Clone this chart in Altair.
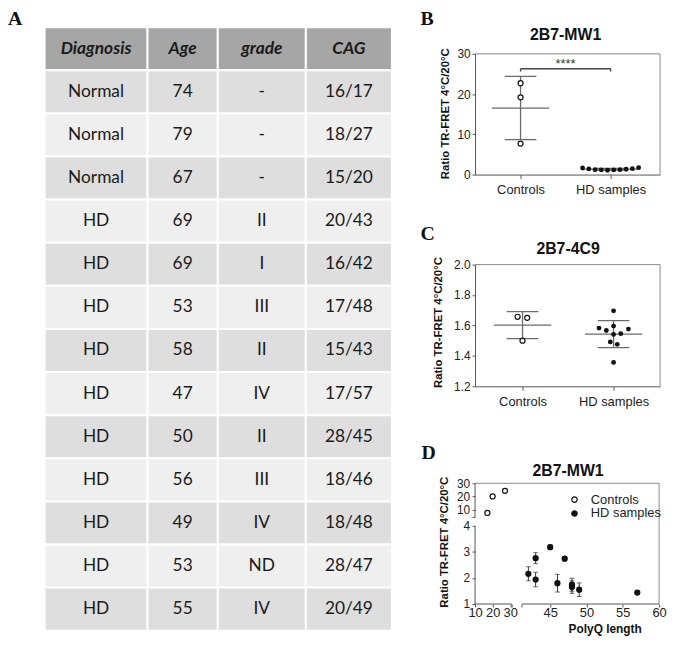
import altair as alt
import numpy as np
import pandas as pd

# ------------------------------------------------------------------ data
# Panel A (table)
HEADER = ["Diagnosis", "Age", "grade", "CAG"]
DIAGNOSIS = ["Normal", "Normal", "Normal", "HD", "HD", "HD", "HD", "HD", "HD", "HD", "HD", "HD", "HD"]
AGE = ["74", "79", "67", "69", "69", "53", "58", "47", "50", "56", "49", "53", "55"]
GRADE = ["-", "-", "-", "II", "I", "III", "II", "IV", "II", "III", "IV", "ND", "IV"]
CAG = ["16/17", "18/27", "15/20", "20/43", "16/42", "17/48", "15/43", "17/57", "28/45",
       "18/46", "18/48", "28/47", "20/49"]

# Panel B (2B7-MW1)
GROUPS = ["Controls", "HD samples"]
B_CONTROLS = [22.7, 19.2, 7.7]
B_HD = [1.64, 1.40, 1.23, 1.15, 1.08, 1.15, 1.23, 1.32, 1.47, 1.72]
B_SIG = "****"
B_SIG_Y = 26.3

# Panel C (2B7-4C9)
C_CONTROLS = [1.657, 1.650, 1.500]
C_HD = [1.696, 1.583, 1.567, 1.596, 1.576, 1.541, 1.546, 1.492, 1.476, 1.357]

# Panel D (2B7-MW1 vs PolyQ length)
D_CTRL_Q = [17, 20, 27]
D_CTRL_Y = [7.5, 20.0, 24.3]
D_CTRL_ERR = [0.3, 0.5, 1.2]
D_HD_Q = [42, 43, 43, 45, 46, 47, 48, 48, 49, 57]
D_HD_Y = [2.16, 2.76, 1.94, 3.18, 1.80, 2.74, 1.74, 1.65, 1.55, 1.44]
D_HD_ERR = [0.27, 0.21, 0.28, 0.08, 0.34, 0.08, 0.25, 0.24, 0.26, 0.06]

YTITLE = "Ratio TR-FRET 4°C/20°C"

# ------------------------------------------------------------------ layout / style
SANS = "Liberation Sans, Arial, sans-serif"
SERIF = "Liberation Serif, Times New Roman, serif"
TFONT = "Lato, Open Sans, sans-serif"
AXC = "#555555"
FRAME = "#8a8a8a"
INK = "#111111"

COL_EDGES = [0, 104, 175, 264, 351]
TABLE_W, TABLE_H = 351, 610
PW = 187
B_TOP = 27          # panel B plot starts this far below the table top
B_H, C_H, D_H = 122, 123, 122
LETTER_Y = -2       # baseline of the "A"/"B" panel letters relative to the table top

# dot-plot horizontal layout (pixels from group centre)
B_CTRL_DX = [0, 0, 0]
B_HD_DX = list(np.linspace(-28.3, 28.3, len(B_HD)))
C_CTRL_DX = [-5, 4.7, 0]
C_HD_DX = [0, -14.7, -7.3, 0, 15, 0, 7.3, -3.3, 3.7, 0]

# broken axes of panel D (piecewise linear scales)
D_XDOM, D_XRANGE = [10, 30.8, 41.1, 60], [0, 37, 47.3, 186]
D_YDOM, D_YRANGE = [1, 4, 4.5, 30], [D_H, 43, 34, 0]


def text_layer(txt, x, y, font, size, weight="bold", align="left", baseline="alphabetic"):
    return alt.Chart(pd.DataFrame({"t": [txt]})).mark_text(
        font=font, fontSize=size, fontWeight=weight, align=align, baseline=baseline, color=INK
    ).encode(x=alt.value(x), y=alt.value(y), text="t:N")


# ------------------------------------------------------------------ Panel A
rows = [HEADER] + [list(r) for r in zip(DIAGNOSIS, AGE, GRADE, CAG)]
cells = []
for r, row in enumerate(rows):
    for c, txt in enumerate(row):
        cells.append(dict(r=r, r2=r + 1, rm=r + 0.5, x1=COL_EDGES[c], x2=COL_EDGES[c + 1],
                          xm=(COL_EDGES[c] + COL_EDGES[c + 1]) / 2, txt=txt,
                          kind="header" if r == 0 else ("dark" if r % 2 == 1 else "light")))
cells = pd.DataFrame(cells)
txs = alt.Scale(domain=[0, TABLE_W], nice=False, zero=False)
tys = alt.Scale(domain=[0, len(rows)], reverse=True, nice=False, zero=False)
tbase = alt.Chart(cells)
t_rect = tbase.mark_rect(stroke="white", strokeWidth=2).encode(
    x=alt.X("x1:Q", scale=txs, axis=None), x2="x2:Q",
    y=alt.Y("r:Q", scale=tys, axis=None), y2="r2:Q",
    color=alt.Color("kind:N", scale=alt.Scale(domain=["header", "dark", "light"],
                                              range=["#a6a6a6", "#dedede", "#efefef"]), legend=None),
)
t_head = tbase.transform_filter("datum.r == 0").mark_text(
    font=TFONT, fontSize=17.5, fontStyle="italic", fontWeight="bold", color="#1a1a1a", baseline="middle"
).encode(x=alt.X("xm:Q", scale=txs, axis=None), y=alt.Y("rm:Q", scale=tys, axis=None), text="txt:N")
t_body = tbase.transform_filter("datum.r > 0").mark_text(
    font=TFONT, fontSize=17.5, color="#1a1a1a", baseline="middle"
).encode(x=alt.X("xm:Q", scale=txs, axis=None), y=alt.Y("rm:Q", scale=tys, axis=None), text="txt:N")
table = alt.layer(
    t_rect, t_head, t_body, text_layer("A", -37, LETTER_Y, SERIF, 20)
).properties(width=TABLE_W, height=TABLE_H, view=alt.ViewBackground(stroke=None))


# ------------------------------------------------------------------ Panels B and C
def dot_panel(letter, title, ctrl, hd, ctrl_dx, hd_dx, ppu, x0, ydom, yvals, yfmt, h, top,
              title_xy, letter_y, ytitle_xy, bracket=None):
    xdom = [1 - x0 / ppu, 1 + (PW - x0) / ppu]
    xs = alt.Scale(domain=xdom, nice=False, zero=False)
    ys = alt.Scale(domain=ydom, range=[h + top, top], nice=False, zero=False)
    xaxis = alt.Axis(values=[1, 2], title=None, grid=False,
                     labelExpr=f"datum.value == 1 ? '{GROUPS[0]}' : '{GROUPS[1]}'",
                     domainColor=AXC, tickColor=AXC, tickSize=4, labelFont=SANS, labelFontSize=13,
                     labelColor="#222", labelPadding=5, labelFlush=False)
    yaxis = alt.Axis(values=yvals, format=yfmt, title=YTITLE, grid=False, domainColor=AXC, tickColor=AXC,
                     tickSize=3, labelFont=SANS, labelFontSize=12, labelColor="#222", labelPadding=2,
                     titleFont=SANS, titleFontSize=11.5, titleFontWeight="bold", titleColor=INK,
                     titleAngle=270, titleAlign="center", titleBaseline="middle",
                     titleX=ytitle_xy[0], titleY=top + ytitle_xy[1])

    def X(f):
        return alt.X(f, type="quantitative", scale=xs, axis=xaxis)

    def Y(f):
        return alt.Y(f, type="quantitative", scale=ys, axis=yaxis)

    pts = pd.DataFrame(
        [dict(g=1, x=1 + d / ppu, v=v) for v, d in zip(ctrl, ctrl_dx)]
        + [dict(g=2, x=2 + d / ppu, v=v) for v, d in zip(hd, hd_dx)]
    )
    segs = []
    for g, vals in ((1, ctrl), (2, hd)):
        m, s = float(np.mean(vals)), float(np.std(vals, ddof=1))
        segs += [dict(x1=g - 29 / ppu, x2=g + 29 / ppu, y1=m, y2=m),
                 dict(x1=g - 16 / ppu, x2=g + 16 / ppu, y1=m + s, y2=m + s),
                 dict(x1=g - 16 / ppu, x2=g + 16 / ppu, y1=m - s, y2=m - s),
                 dict(x1=g, x2=g, y1=m - s, y2=m + s)]
    segs = pd.DataFrame(segs)
    frame = pd.DataFrame([dict(x1=xdom[0], x2=xdom[1], y1=ydom[1], y2=ydom[1]),
                          dict(x1=xdom[1], x2=xdom[1], y1=ydom[0], y2=ydom[1])])
    layers = [
        alt.Chart(frame).mark_rule(color=FRAME, strokeWidth=1).encode(
            x=X("x1"), x2="x2:Q", y=Y("y1"), y2="y2:Q"),
        alt.Chart(segs).mark_rule(color="#6b6b6b", strokeWidth=1.3).encode(
            x=X("x1"), x2="x2:Q", y=Y("y1"), y2="y2:Q"),
        alt.Chart(pts).transform_filter("datum.g == 1").mark_circle(
            fill="white", stroke=INK, strokeWidth=1.2, size=26, opacity=1).encode(x=X("x"), y=Y("v")),
        alt.Chart(pts).transform_filter("datum.g == 2").mark_circle(
            color=INK, size=24, opacity=1).encode(x=X("x"), y=Y("v")),
    ]
    if bracket is not None:
        sig, yb = bracket
        bseg = pd.DataFrame([dict(x1=1, x2=2, y1=yb, y2=yb),
                             dict(x1=1, x2=1, y1=yb - 0.7, y2=yb),
                             dict(x1=2, x2=2, y1=yb - 0.7, y2=yb)])
        layers.append(alt.Chart(bseg).mark_rule(color="#444", strokeWidth=1.3).encode(
            x=X("x1"), x2="x2:Q", y=Y("y1"), y2="y2:Q"))
        layers.append(alt.Chart(pd.DataFrame({"t": [sig], "x": [1.5], "y": [yb]})).mark_text(
            font=SANS, fontSize=13, color="#333", baseline="alphabetic", dy=-1).encode(
            x=X("x"), y=Y("y"), text="t:N"))
    layers.append(text_layer(title, title_xy[0], top + title_xy[1], SANS, 16, align="center"))
    layers.append(text_layer(letter, -55, top + letter_y, SERIF, 20))
    return alt.layer(*layers).properties(
        width=PW, height=h + top, view=alt.ViewBackground(stroke=None))


panel_b = dot_panel("B", "2B7-MW1", B_CONTROLS, B_HD, B_CTRL_DX, B_HD_DX, 91, 46, [0, 30],
                    [0, 10, 20, 30], "d", B_H, B_TOP, (91.5, -14.3), LETTER_Y - B_TOP, (-30, 60),
                    bracket=(B_SIG, B_SIG_Y))
panel_c = dot_panel("C", "2B7-4C9", C_CONTROLS, C_HD, C_CTRL_DX, C_HD_DX, 92, 48, [1.2, 2.0],
                    [1.2, 1.4, 1.6, 1.8, 2.0], ".1f", C_H, 0, (94, -10.6), -24.6, (-37, 58))

# ------------------------------------------------------------------ Panel D
dxs = alt.Scale(type="linear", domain=D_XDOM, range=D_XRANGE, nice=False, zero=False)
dys = alt.Scale(type="linear", domain=D_YDOM, range=D_YRANGE, nice=False, zero=False)
d_xaxis = alt.Axis(values=[10, 20, 30, D_XDOM[1], D_XDOM[2], 45, 50, 55, 60],
                   labelExpr=f"datum.value == {D_XDOM[1]} || datum.value == {D_XDOM[2]} ? '' : datum.label",
                   domain=False, grid=False, tickColor=AXC, tickSize=3, labelFont=SANS, labelFontSize=13,
                   labelColor="#222", labelPadding=0, labelFlush=False, labelOverlap=False,
                   title="PolyQ length", titleFont=SANS, titleFontSize=12, titleFontWeight="bold",
                   titleColor=INK, titleX=131, titleY=29, titleAlign="center", titleBaseline="alphabetic")
d_yaxis = alt.Axis(values=[1, 2, 3, 4, D_YDOM[2], 10, 20, 30],
                   labelExpr=f"datum.value == {D_YDOM[2]} ? '' : datum.label",
                   domain=False, grid=False, tickColor=AXC, tickSize=3, labelFont=SANS, labelFontSize=12,
                   labelColor="#222", labelPadding=2.5, labelOverlap=False,
                   title=YTITLE, titleFont=SANS, titleFontSize=11.5, titleFontWeight="bold", titleColor=INK,
                   titleAngle=270, titleAlign="center", titleBaseline="middle", titleX=-31, titleY=59)


def dX(f):
    return alt.X(f, type="quantitative", scale=dxs, axis=d_xaxis)


def dY(f):
    return alt.Y(f, type="quantitative", scale=dys, axis=d_yaxis)


d_axis_segs = pd.DataFrame([
    dict(x1=10, x2=D_XDOM[1], y1=1, y2=1),
    dict(x1=D_XDOM[2], x2=60, y1=1, y2=1),
    dict(x1=10, x2=10, y1=1, y2=4),
    dict(x1=10, x2=10, y1=D_YDOM[2], y2=30),
])
d_frame_segs = pd.DataFrame([
    dict(x1=10, x2=60, y1=30, y2=30),
    dict(x1=60, x2=60, y1=1, y2=30),
])
d_frame = alt.Chart(d_frame_segs).mark_rule(strokeWidth=1, color=FRAME).encode(
    x=dX("x1"), x2="x2:Q", y=dY("y1"), y2="y2:Q")
d_axes = alt.Chart(d_axis_segs).mark_rule(strokeWidth=1, color=AXC).encode(
    x=dX("x1"), x2="x2:Q", y=dY("y1"), y2="y2:Q")

d_pts = pd.DataFrame(
    [dict(q=q, y=y, lo=y - e, hi=y + e, grp=GROUPS[0]) for q, y, e in zip(D_CTRL_Q, D_CTRL_Y, D_CTRL_ERR)]
    + [dict(q=q, y=y, lo=y - e, hi=y + e, grp=GROUPS[1]) for q, y, e in zip(D_HD_Q, D_HD_Y, D_HD_ERR)]
)
d_err = alt.Chart(d_pts).mark_rule(color="#333", strokeWidth=1).encode(x=dX("q"), y=dY("lo"), y2="hi:Q")
d_cap_lo = alt.Chart(d_pts).mark_tick(orient="horizontal", size=5, thickness=1, color="#333").encode(
    x=dX("q"), y=dY("lo"))
d_cap_hi = alt.Chart(d_pts).mark_tick(orient="horizontal", size=5, thickness=1, color="#333").encode(
    x=dX("q"), y=dY("hi"))
d_dots = alt.Chart(d_pts).mark_point(shape="circle", filled=True, stroke=INK, strokeWidth=1.2,
                                     size=26, opacity=1).encode(
    x=dX("q"), y=dY("y"),
    fill=alt.Fill("grp:N", scale=alt.Scale(domain=GROUPS, range=["#ffffff", INK]),
                  legend=alt.Legend(title=None, orient="none", legendX=94, legendY=10, padding=0,
                                    labelFont=SANS, labelFontSize=13, labelColor="#222",
                                    symbolType="circle", symbolSize=30, symbolStrokeColor=INK,
                                    symbolStrokeWidth=1.2, labelOffset=10, rowPadding=-1)))
panel_d = alt.layer(
    d_frame, d_axes, d_err, d_cap_lo, d_cap_hi, d_dots,
    text_layer("2B7-MW1", 94, -7.7, SANS, 16, align="center"),
    text_layer("D", -54, -24.4, SERIF, 20),
).properties(width=PW, height=D_H, view=alt.ViewBackground(stroke=None))

# ------------------------------------------------------------------ assemble
lower = alt.vconcat(panel_c, panel_d, spacing=98, bounds="flush").resolve_scale(
    color="independent", fill="independent").resolve_legend(fill="independent")
right = alt.vconcat(panel_b, lower, spacing=91, bounds="flush").resolve_scale(
    color="independent", fill="independent").resolve_legend(fill="independent")
chart = alt.hconcat(table, right, spacing=28).resolve_scale(
    color="independent", fill="independent"
).properties(padding={"left": 0, "top": -2, "right": 0, "bottom": 0}, background="white")

chart.save("out.html", embed_options={"renderer": "svg", "actions": False})
